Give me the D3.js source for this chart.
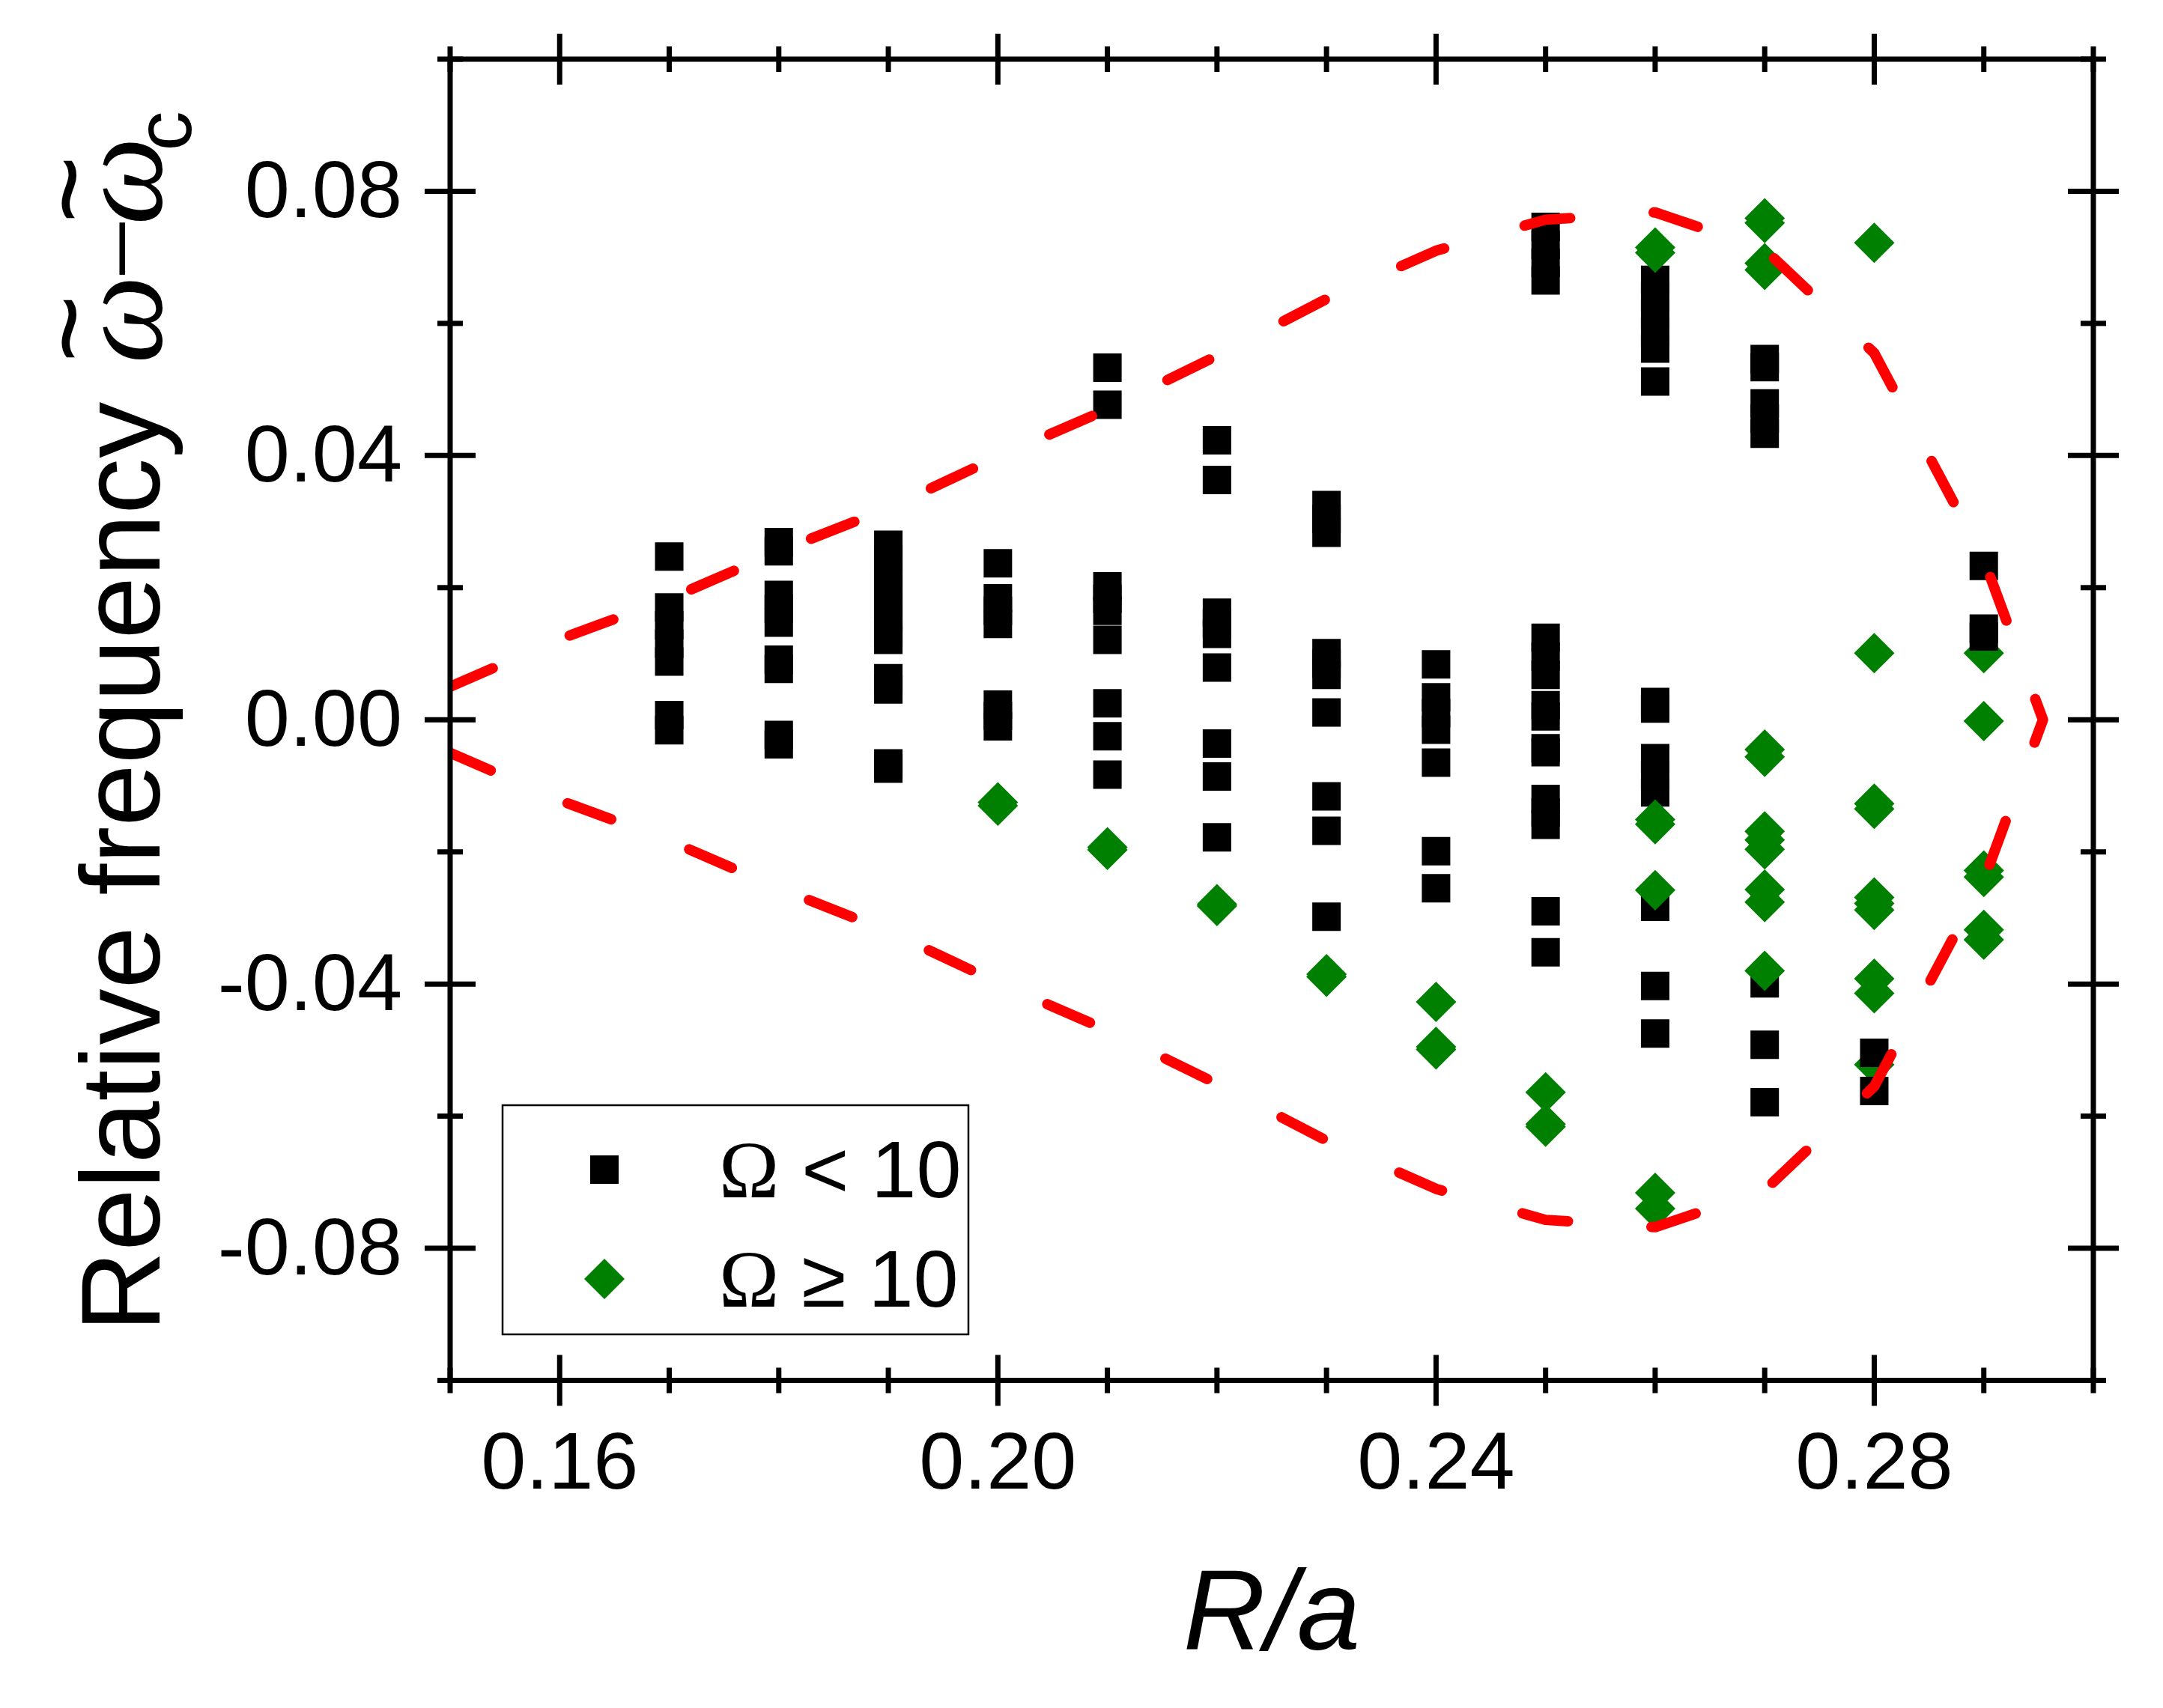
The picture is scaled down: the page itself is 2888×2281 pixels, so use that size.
<!DOCTYPE html>
<html>
<head>
<meta charset="utf-8">
<script src="https://cdn.jsdelivr.net/npm/d3@7"></script>
<style>
  html, body { margin: 0; padding: 0; background: #fff; }
  svg { display: block; }
</style>
</head>
<body>
<svg id="chart" width="2888" height="2281"></svg>
<script>
// ---------------- data ----------------
const xTickValues = [0.16, 0.20, 0.24, 0.28];
const xTickLabels = ["0.16", "0.20", "0.24", "0.28"];
const xMinorTicks = [0.15, 0.17, 0.18, 0.19, 0.21, 0.22, 0.23, 0.25, 0.26, 0.27, 0.29, 0.30];
const yTickValues = [0.08, 0.04, 0.00, -0.04, -0.08];
const yTickLabels = ["0.08", "0.04", "0.00", "-0.04", "-0.08"];
const yMinorTicks = [0.10, 0.06, 0.02, -0.02, -0.06, -0.10];

// Omega < 10 (black squares), one list of values per R/a column
const squareCols = [0.17, 0.18, 0.19, 0.20, 0.21, 0.22, 0.23, 0.24, 0.25, 0.26, 0.27, 0.28, 0.29];
const squareVals = [
  [0.0247, 0.0170, 0.0143, 0.0115, 0.0088, 0.0007, -0.0016],
  [0.0269, 0.0255, 0.0189, 0.0168, 0.0147, 0.0091, 0.0077, -0.0023, -0.0037],
  [0.0265, 0.0243, 0.0221, 0.0199, 0.0177, 0.0155, 0.0133, 0.0121, 0.0063, 0.0046, -0.0066, -0.0074],
  [0.0237, 0.0184, 0.0165, 0.0145, 0.0023, 0.0006, -0.0010],
  [0.0533, 0.0477, 0.0202, 0.0183, 0.0165, 0.0121, 0.0025, -0.0025, -0.0083],
  [0.0423, 0.0363, 0.0162, 0.0146, 0.0130, 0.0079, -0.0036, -0.0086, -0.0178],
  [0.0325, 0.0304, 0.0283, 0.0101, 0.0085, 0.0068, 0.0011, -0.0116, -0.0168, -0.0298],
  [0.0084, 0.0034, 0.0010, -0.0015, -0.0065, -0.0199, -0.0255],
  [0.0746, 0.0719, 0.0692, 0.0665, 0.0124, 0.0096, 0.0068, 0.0022, 0.0005, -0.0043, -0.0049, -0.0120, -0.0140, -0.0159, -0.0290, -0.0352],
  [0.0666, 0.0640, 0.0614, 0.0588, 0.0562, 0.0512, 0.0027, 0.0017, -0.0058, -0.0084, -0.0110, -0.0283, -0.0403, -0.0475],
  [0.0546, 0.0534, 0.0479, 0.0456, 0.0433, -0.0399, -0.0492, -0.0579],
  [-0.0504, -0.0562],
  [0.0233, 0.0138, 0.0126]
];

// Omega >= 10 (green diamonds)
const diamondCols = [0.20, 0.21, 0.22, 0.23, 0.24, 0.25, 0.26, 0.27, 0.28, 0.29];
const diamondVals = [
  [-0.0125, -0.0130],
  [-0.0193, -0.0197],
  [-0.0279, -0.0282],
  [-0.0385, -0.0389],
  [-0.0427, -0.0495, -0.0499],
  [-0.0564, -0.0612, -0.0616],
  [0.0715, 0.0707, -0.0151, -0.0158, -0.0258, -0.0716, -0.0740],
  [0.0759, 0.0752, 0.0691, 0.0681, -0.0045, -0.0056, -0.0169, -0.0182, -0.0196, -0.0257, -0.0276, -0.0380],
  [0.0722, 0.0101, -0.0127, -0.0135, -0.0269, -0.0278, -0.0288, -0.0392, -0.0414, -0.0522],
  [0.0101, -0.0002, -0.0228, -0.0238, -0.0318, -0.0333]
];

// red dashed envelope (upper branch; lower branch is its mirror)
const envelopeX     = [0.15, 0.16, 0.17, 0.18, 0.19, 0.20, 0.21, 0.22, 0.23, 0.24, 0.25, 0.26, 0.27, 0.28, 0.29, 0.2954];
const envelopeUpper = [0.0050, 0.0122, 0.0183, 0.0255, 0.0320, 0.0398, 0.0470, 0.0551, 0.0637, 0.0710, 0.0757, 0.0768, 0.0712, 0.0555, 0.0243, 0.0];

const legendLabels = [["Ω", " < 10"], ["Ω", " ≥ 10"]];

// ---------------- drawing ----------------
const svg = d3.select("#chart");
const SANS = "'Liberation Sans', Arial, sans-serif";
const SERIF = "'Liberation Serif', 'Times New Roman', serif";

const L = 601, R = 2795, T = 79, B = 1843.5;
const x = d3.scaleLinear().domain([0.15, 0.30]).range([L, R]);
const y = d3.scaleLinear().domain([-0.10, 0.10]).range([B, T]);

svg.append("rect").attr("width", 2888).attr("height", 2281).attr("fill", "#fff");

svg.append("defs").append("clipPath").attr("id", "plotclip")
  .append("rect").attr("x", L).attr("y", T).attr("width", R - L).attr("height", B - T);

const plot = svg.append("g").attr("clip-path", "url(#plotclip)");

const sqPts = [];
squareCols.forEach((c, i) => squareVals[i].forEach(v => sqPts.push({ x: c, y: v })));
const dmPts = [];
diamondCols.forEach((c, i) => diamondVals[i].forEach(v => dmPts.push({ x: c, y: v })));

const squareSym = d3.symbol(d3.symbolSquare, 38 * 38);
const diamondSym = d3.symbol(d3.symbolSquare, 38.2 * 38.2);

function drawSquares(pts) {
  plot.append("g").selectAll("path").data(pts).join("path")
    .attr("d", squareSym)
    .attr("transform", d => `translate(${x(d.x)},${y(d.y)})`)
    .attr("fill", "#000");
}
function drawDiamonds(pts) {
  plot.append("g").selectAll("path").data(pts).join("path")
    .attr("d", diamondSym)
    .attr("transform", d => `translate(${x(d.x)},${y(d.y)}) rotate(45)`)
    .attr("fill", "#008000");
}
drawSquares(sqPts.filter(d => d.x < 0.275));
drawDiamonds(dmPts);
drawSquares(sqPts.filter(d => d.x >= 0.275));

// envelope: upper-left -> tip -> lower-left
const envPts = envelopeX.map((ex, i) => [ex, envelopeUpper[i]]);
const lowerPts = envelopeX.map((ex, i) => [ex, -envelopeUpper[i]]).reverse().slice(1);
const fullEnv = envPts.concat(lowerPts);
plot.append("path")
  .attr("d", d3.line().x(d => x(d[0])).y(d => y(d[1]))(fullEnv))
  .attr("fill", "none")
  .attr("stroke", "#ff0000")
  .attr("stroke-width", 14)
  .attr("stroke-linecap", "round")
  .attr("stroke-linejoin", "round")
  .attr("stroke-dasharray", "62,111.7");

// ---------------- axes ----------------
function styleAxis(g) {
  g.select(".domain").remove();
  g.selectAll(".tick line").attr("stroke", "#000").attr("stroke-width", 7);
  g.selectAll(".tick text").attr("font-family", SANS).attr("font-size", 108).attr("fill", "#000");
}
const noLabel = () => "";
const MAJ = 34, MIN = 17;

// bottom
svg.append("g").attr("transform", `translate(0,${B})`)
  .call(d3.axisBottom(x).tickValues(xTickValues).tickSize(MAJ).tickPadding(34).offset(0)
    .tickFormat((d, i) => xTickLabels[i])).call(styleAxis);
[[d3.axisBottom, B, -MAJ, xTickValues], [d3.axisBottom, B, MIN, xMinorTicks], [d3.axisBottom, B, -MIN, xMinorTicks],
 [d3.axisTop, T, MAJ, xTickValues], [d3.axisTop, T, -MAJ, xTickValues], [d3.axisTop, T, MIN, xMinorTicks], [d3.axisTop, T, -MIN, xMinorTicks]]
  .forEach(([fn, pos, size, vals]) => {
    svg.append("g").attr("transform", `translate(0,${pos})`)
      .call(fn(x).tickValues(vals).tickSize(size).offset(0).tickFormat(noLabel)).call(styleAxis);
  });

// left
svg.append("g").attr("transform", `translate(${L},0)`)
  .call(d3.axisLeft(y).tickValues(yTickValues).tickSize(MAJ).tickPadding(30).offset(0)
    .tickFormat((d, i) => yTickLabels[i])).call(styleAxis);
[[d3.axisLeft, L, -MAJ, yTickValues], [d3.axisLeft, L, MIN, yMinorTicks], [d3.axisLeft, L, -MIN, yMinorTicks],
 [d3.axisRight, R, MAJ, yTickValues], [d3.axisRight, R, -MAJ, yTickValues], [d3.axisRight, R, MIN, yMinorTicks], [d3.axisRight, R, -MIN, yMinorTicks]]
  .forEach(([fn, pos, size, vals]) => {
    svg.append("g").attr("transform", `translate(${pos},0)`)
      .call(fn(y).tickValues(vals).tickSize(size).offset(0).tickFormat(noLabel)).call(styleAxis);
  });

// frame
svg.append("rect").attr("x", L).attr("y", T).attr("width", R - L).attr("height", B - T)
  .attr("fill", "none").attr("stroke", "#000").attr("stroke-width", 7).attr("stroke-linejoin", "miter");

// ---------------- axis titles ----------------
svg.append("text").attr("x", (L + R) / 2).attr("y", 2203)
  .attr("text-anchor", "middle").attr("font-family", SANS).attr("font-style", "italic")
  .attr("font-size", 152).attr("fill", "#000").text("R/a");

const yt = svg.append("g").attr("transform", "translate(213,1767) rotate(-90)");
yt.append("text").attr("x", -12).attr("y", 0).attr("font-family", SANS).attr("font-size", 150)
  .attr("fill", "#000").text("Relative frequency");
yt.append("text").attr("x", 1340).attr("y", 2).attr("text-anchor", "middle").attr("font-family", SERIF)
  .attr("font-style", "italic").attr("font-size", 166).attr("fill", "#000").text("ω");
yt.append("text").attr("x", 1435).attr("y", 0).attr("text-anchor", "middle").attr("font-family", SERIF)
  .attr("font-size", 150).attr("fill", "#000").text("−");
yt.append("text").attr("x", 1525).attr("y", 2).attr("text-anchor", "middle").attr("font-family", SERIF)
  .attr("font-style", "italic").attr("font-size", 166).attr("fill", "#000").text("ω");
yt.append("text").attr("x", 1592).attr("y", 42).attr("text-anchor", "middle").attr("font-family", SANS)
  .attr("font-size", 106).attr("fill", "#000").text("c");
yt.append("text").attr("x", 1328).attr("y", -69).attr("text-anchor", "middle").attr("font-family", SANS)
  .attr("font-size", 155).attr("fill", "#000").text("~");
yt.append("text").attr("x", 1514).attr("y", -69).attr("text-anchor", "middle").attr("font-family", SANS)
  .attr("font-size", 155).attr("fill", "#000").text("~");

// ---------------- legend ----------------
const lg = svg.append("g");
lg.append("rect").attr("x", 671).attr("y", 1476).attr("width", 622).attr("height", 306)
  .attr("fill", "#fff").attr("stroke", "#000").attr("stroke-width", 2.5);
lg.append("path").attr("d", squareSym).attr("transform", "translate(807,1562)").attr("fill", "#000");
lg.append("path").attr("d", diamondSym).attr("transform", "translate(807,1708) rotate(45)").attr("fill", "#008000");
[1599, 1745].forEach((by, i) => {
  const t = lg.append("text").attr("x", 960).attr("y", by).attr("font-size", 108).attr("fill", "#000");
  t.append("tspan").attr("font-family", SERIF).text(legendLabels[i][0]);
  t.append("tspan").attr("font-family", SANS).text(legendLabels[i][1]);
});
</script>
</body>
</html>
